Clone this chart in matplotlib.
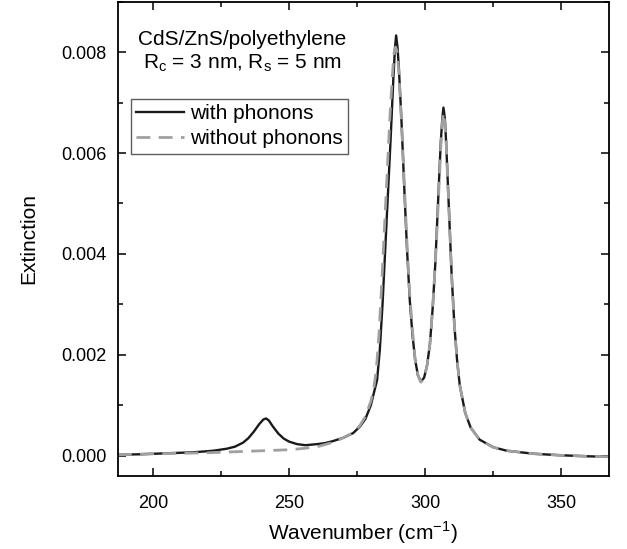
import matplotlib
matplotlib.use("Agg")
import matplotlib.pyplot as plt
from matplotlib.ticker import MultipleLocator, FormatStrFormatter

plt.rcParams['font.family'] = ['Liberation Sans', 'DejaVu Sans']
plt.rcParams['mathtext.fontset'] = 'custom'
plt.rcParams['mathtext.rm'] = 'Liberation Sans'

# extinction spectrum
wn_with = [187, 195, 205, 215, 222, 227, 230, 233, 235, 237, 239, 240.5, 241.5,
           242.5, 244, 246, 248, 250, 253, 256, 260, 263, 266, 270, 273.5, 276,
           278, 280, 281, 282.3, 283.3, 284.3, 285.3, 286.3, 287.3, 288.3, 288.9,
           289.3, 289.8, 290.3, 291.3, 292.3, 293.3, 294.3, 295.3, 296.3, 297.3,
           298.4, 299.6, 300.7, 301.7, 302.7, 303.7, 304.7, 305.7, 306.3, 306.7,
           307.2, 307.7, 308.7, 309.7, 310.7, 311.7, 312.7, 314.7, 316.7, 320,
           325, 330, 340, 350, 360, 367.5]
ext_with = [0.00002, 0.00003, 0.00005, 0.00007, 0.00010, 0.00014, 0.00018,
            0.00026, 0.00035, 0.00048, 0.00063, 0.00072, 0.00074, 0.00070,
            0.00058, 0.00044, 0.00034, 0.00028, 0.00023, 0.00021, 0.00023,
            0.00025, 0.00029, 0.00036, 0.00045, 0.00058, 0.00073, 0.00100,
            0.00122, 0.0015, 0.0021, 0.0030, 0.0041, 0.0052, 0.0063, 0.0075,
            0.0081, 0.00833, 0.0081, 0.0077, 0.0066, 0.0053, 0.0041, 0.0031,
            0.0024, 0.0019, 0.0016, 0.00147, 0.00155, 0.0018, 0.0022, 0.0029,
            0.0038, 0.0050, 0.0062, 0.0067, 0.0069, 0.0067, 0.0062, 0.0049,
            0.0036, 0.0026, 0.0019, 0.0014, 0.00085, 0.00056, 0.00032, 0.00017,
            0.00010, 0.00004, 0.00001, -0.00001, -0.00002]

wn_without = [187, 200, 210, 220, 230, 240, 250, 256, 261, 265, 268, 270, 273.5,
              276, 278, 280, 281, 282, 283, 284, 285, 286, 287, 288, 288.6,
              289.1, 289.7, 290.3, 291.3, 292.3, 293.3, 294.3, 295.3, 296.3,
              297.3, 298.4, 299.6, 300.7, 301.7, 302.7, 303.7, 304.7, 305.7,
              306.3, 306.7, 307.2, 307.7, 308.7, 309.7, 310.7, 311.7, 312.7,
              314.7, 316.7, 320, 325, 330, 340, 350, 360, 367.5]
ext_without = [0.00002, 0.00004, 0.00005, 0.00006, 0.00008, 0.00010, 0.00012,
               0.00015, 0.00019, 0.00025, 0.00031, 0.00036, 0.00046, 0.00060,
               0.00078, 0.00108, 0.0013, 0.0017, 0.0024, 0.0034, 0.0045, 0.0056,
               0.0067, 0.0076, 0.0080, 0.0081, 0.0080, 0.0076, 0.0066, 0.0054,
               0.0042, 0.0032, 0.0025, 0.0019, 0.0016, 0.00146, 0.00153, 0.0018,
               0.0022, 0.0029, 0.0038, 0.0049, 0.0061, 0.0066, 0.0068, 0.0066,
               0.0062, 0.0049, 0.0036, 0.0026, 0.0019, 0.0014, 0.00085, 0.00056,
               0.00032, 0.00017, 0.00010, 0.00004, 0.00001, -0.00001, -0.00002]

dpi = 100
fig = plt.figure(figsize=(627 / dpi, 549 / dpi), dpi=dpi)
ax = fig.add_axes([0.188, 0.133, 0.783, 0.864])

ax.plot(wn_with, ext_with, color='#1a1a1a', lw=1.7, label='with phonons')
ax.plot(wn_without, ext_without, color='#a0a0a0', lw=2.0, ls=(0, (5, 3)),
        label='without phonons')

ax.set_xlim(187, 367.5)
ax.set_ylim(-0.0004, 0.009)
ax.xaxis.set_major_locator(MultipleLocator(50))
ax.xaxis.set_minor_locator(MultipleLocator(25))
ax.yaxis.set_major_locator(MultipleLocator(0.002))
ax.yaxis.set_minor_locator(MultipleLocator(0.001))
ax.yaxis.set_major_formatter(FormatStrFormatter('%.3f'))
ax.tick_params(which='both', direction='in', top=True, right=True, width=1.1,
               labelsize=13)
ax.tick_params(axis='y', pad=8)
ax.tick_params(axis='x', pad=14)
ax.tick_params(which='major', length=6)
ax.tick_params(which='minor', length=3.5)
for sp in ax.spines.values():
    sp.set_linewidth(1.3)

ax.set_xlabel('Wavenumber (cm$^{-1}$)', fontsize=15, labelpad=5)
ax.set_ylabel('Extinction', fontsize=15, labelpad=17)

ax.text(0.253, 0.894, 'CdS/ZnS/polyethylene\n'
        r'R$_\mathregular{c}$ = 3 nm, R$_\mathregular{s}$ = 5 nm',
        transform=ax.transAxes, ha='center', va='center', fontsize=15,
        linespacing=1.25)

leg = ax.legend(loc='upper left', bbox_to_anchor=(0.026, 0.795), fontsize=15,
                frameon=True, fancybox=False, borderpad=0.25, labelspacing=0.3,
                handlelength=2.3, handletextpad=0.3, borderaxespad=0)
leg.get_frame().set_edgecolor('#333333')
leg.get_frame().set_linewidth(1.0)

fig.savefig('out.png', dpi=dpi)
